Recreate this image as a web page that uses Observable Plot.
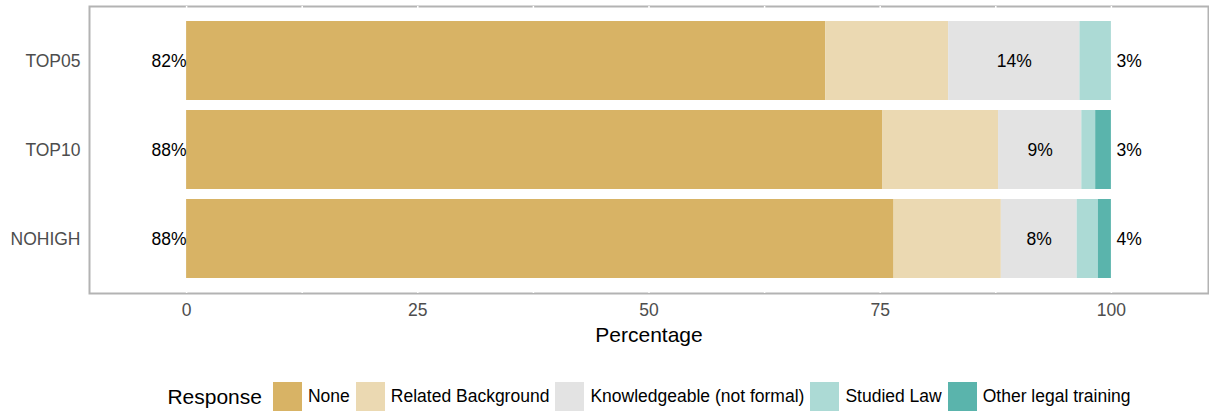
<!DOCTYPE html>
<html>
<head>
<meta charset="utf-8">
<script src="https://cdn.jsdelivr.net/npm/d3@7"></script>
<script src="https://cdn.jsdelivr.net/npm/@observablehq/plot@0.6"></script>
<style>
  html, body { margin: 0; padding: 0; background: #fff; }
  body { width: 1209px; height: 411px; overflow: hidden; font-family: "Liberation Sans", Arial, Helvetica, sans-serif; }
  #legend { height: 61px; display: flex; align-items: flex-end; justify-content: center; padding-left: 95px; box-sizing: border-box; width: 1209px; }
  #legend .title { font-size: 21px; color: #000; margin-right: 11px; line-height: 29px; height: 29px; }
  #legend .item { display: flex; align-items: center; margin-right: 6px; }
  #legend .sw { width: 29px; height: 29px; margin-right: 6px; }
  #legend .lab { font-size: 17.5px; color: #000; }
</style>
</head>
<body>
<div id="chart"></div>
<div id="legend"></div>
<script>
const groups = ["TOP05", "TOP10", "NOHIGH"];
const responses = ["None", "Related Background", "Knowledgeable (not formal)", "Studied Law", "Other legal training"];
const colors = ["#d8b365", "#ebd9b2", "#e3e3e3", "#acdad5", "#5ab4ac"];
const none = [69.1, 75.3, 76.5];
const related = [13.3, 12.5, 11.6];
const knowledgeable = [14.2, 9.0, 8.2];
const studiedLaw = [3.4, 1.5, 2.3];
const otherLegal = [0.0, 1.7, 1.4];
const xTicks = [0, 25, 50, 75, 100];
const gridBreaks = [0, 12.5, 25, 37.5, 50, 62.5, 75, 87.5, 100];

const series = [none, related, knowledgeable, studiedLaw, otherLegal];
const rows = [];
groups.forEach((g, i) => responses.forEach((r, j) => rows.push({group: g, response: r, value: series[j][i]})));

const low = groups.map((g, i) => ({group: g, pos: 0, value: none[i] + related[i]}));
const mid = groups.map((g, i) => ({group: g, pos: none[i] + related[i] + knowledgeable[i] / 2, value: knowledgeable[i]}));
const high = groups.map((g, i) => ({group: g, pos: 100, value: studiedLaw[i] + otherLegal[i]}));
const pct = d => Math.round(d.value) + "%";

const font = "'Liberation Sans', Arial, Helvetica, sans-serif";

const chart = Plot.plot({
  width: 1209,
  height: 350,
  marginTop: 6,
  marginBottom: 57,
  marginLeft: 89,
  marginRight: 1,
  style: {fontFamily: font, fontSize: "17.5px", background: "#fff"},
  x: {domain: [-10.5, 110.5]},
  y: {domain: groups, paddingInner: 0.111, paddingOuter: 0.155},
  color: {domain: responses, range: colors},
  marks: [
    Plot.frame({stroke: "#b3b3b3", strokeWidth: 2}),
    Plot.ruleX(gridBreaks, {stroke: "#ffffff", strokeWidth: 1.5}),
    Plot.barX(rows, Plot.stackX({x: "value", y: "group", fill: "response", order: responses})),
    Plot.text(low, {x: "pos", y: "group", text: pct, textAnchor: "end", dx: 0, fill: "#000", fontSize: 17.5}),
    Plot.text(mid, {x: "pos", y: "group", text: pct, textAnchor: "middle", fill: "#000", fontSize: 17.5}),
    Plot.text(high, {x: "pos", y: "group", text: pct, textAnchor: "start", dx: 5, fill: "#000", fontSize: 17.5}),
    Plot.axisX(xTicks, {tickSize: 0, tickPadding: 10, color: "#4d4d4d", label: null, fontSize: 17.5}),
    Plot.axisY({tickSize: 0, tickPadding: 9, color: "#4d4d4d", label: null, fontSize: 17.5}),
    Plot.text(["Percentage"], {frameAnchor: "bottom", lineAnchor: "middle", dy: 42, fontSize: 21, fill: "#000"})
  ]
});
document.getElementById("chart").appendChild(chart);

const legend = document.getElementById("legend");
const t = document.createElement("span");
t.className = "title";
t.textContent = "Response";
legend.appendChild(t);
responses.forEach((r, i) => {
  const it = document.createElement("div");
  it.className = "item";
  const sw = document.createElement("div");
  sw.className = "sw";
  sw.style.background = colors[i];
  const lab = document.createElement("span");
  lab.className = "lab";
  lab.textContent = r;
  it.appendChild(sw);
  it.appendChild(lab);
  legend.appendChild(it);
});
</script>
</body>
</html>
